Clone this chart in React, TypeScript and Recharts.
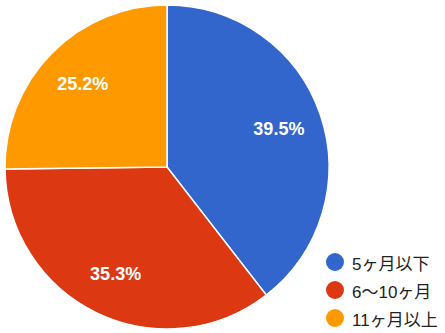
import React from 'react';
import { PieChart, Pie, Cell } from 'recharts';

const categories = ['5ヶ月以下', '6〜10ヶ月', '11ヶ月以上'];
const shares = [39.5, 35.3, 25.2];
const colors = ['#3366cc', '#dc3912', '#ff9900'];

const data = categories.map((name, i) => ({ name, value: shares[i] }));

const RADIAN = Math.PI / 180;

const renderLabel = (props: any) => {
  const { cx, cy, midAngle, outerRadius, index } = props;
  const r = outerRadius * 0.73;
  const x = cx + r * Math.cos(-midAngle * RADIAN);
  const y = cy + r * Math.sin(-midAngle * RADIAN);
  return (
    <text
      x={x}
      y={y}
      fill="#ffffff"
      textAnchor="middle"
      dominantBaseline="central"
      fontFamily="Liberation Sans, Arial, sans-serif"
      fontWeight="bold"
      fontSize={18}
    >
      {`${shares[index].toFixed(1)}%`}
    </text>
  );
};

export default function App() {
  return (
    <div style={{ position: 'fixed', left: 0, top: 0, width: 445, height: 333, background: '#fff' }}>
      <PieChart width={445} height={333} margin={{ top: 0, right: 0, bottom: 0, left: 0 }}>
        <Pie
          data={data}
          dataKey="value"
          cx={167}
          cy={167}
          outerRadius={162}
          startAngle={90}
          endAngle={-270}
          stroke="#ffffff"
          strokeWidth={1.5}
          label={renderLabel}
          labelLine={false}
          isAnimationActive={false}
        >
          {data.map((d, i) => (
            <Cell key={d.name} fill={colors[i]} />
          ))}
        </Pie>
      </PieChart>
      <div
        style={{
          position: 'absolute',
          left: 326,
          top: 248,
          fontFamily: 'Liberation Sans, Arial, "Noto Sans CJK JP", sans-serif',
          fontSize: 17,
          color: '#222222',
        }}
      >
        {categories.map((c, i) => (
          <div key={c} style={{ display: 'flex', alignItems: 'center', height: 28 }}>
            <span
              style={{
                display: 'inline-block',
                width: 18,
                height: 18,
                borderRadius: 9,
                background: colors[i],
                marginRight: 8,
              }}
            />
            <span>{c}</span>
          </div>
        ))}
      </div>
    </div>
  );
}
